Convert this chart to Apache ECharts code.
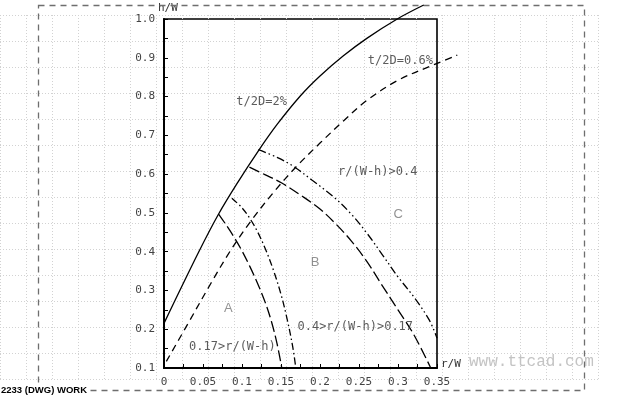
<!DOCTYPE html>
<html><head><meta charset="utf-8">
<script src="https://cdn.jsdelivr.net/npm/echarts@6/dist/echarts.min.js"></script>
<style>html,body{margin:0;padding:0;background:#fff}#c{width:623px;height:396px}</style>
</head><body><div id="c"></div>
<script>
// ---- data (r/W, h/W) ----
const curveT2 = [[0,0.215],[0.044,0.397],[0.07,0.497],[0.095,0.58],[0.121,0.66],[0.145,0.728],[0.175,0.802],[0.2,0.853],[0.23,0.905],[0.26,0.95],[0.299,1.0],[0.333,1.036]];
const curveT06 = [[0.003,0.117],[0.03,0.212],[0.06,0.318],[0.085,0.402],[0.11,0.475],[0.14,0.552],[0.17,0.62],[0.2,0.68],[0.23,0.737],[0.26,0.79],[0.3,0.842],[0.346,0.882],[0.376,0.907]];
const boundA1 = [[0.07,0.497],[0.08,0.468],[0.09,0.437],[0.1,0.402],[0.11,0.362],[0.12,0.318],[0.13,0.268],[0.138,0.218],[0.145,0.162],[0.151,0.1]];
const boundA2 = [[0.087,0.538],[0.1,0.513],[0.11,0.486],[0.12,0.451],[0.13,0.407],[0.14,0.354],[0.15,0.29],[0.158,0.225],[0.165,0.155],[0.169,0.1]];
const boundB1 = [[0.1095,0.618],[0.13,0.598],[0.151,0.577],[0.175,0.546],[0.2,0.51],[0.22,0.472],[0.24,0.428],[0.26,0.375],[0.28,0.312],[0.3,0.25],[0.32,0.187],[0.342,0.1]];
const boundB2 = [[0.121,0.663],[0.145,0.643],[0.166,0.62],[0.19,0.584],[0.217,0.542],[0.24,0.497],[0.26,0.448],[0.28,0.392],[0.3,0.335],[0.32,0.284],[0.34,0.224],[0.35,0.177]];
const annotNames = ['t/2D=2%','t/2D=0.6%','r/(W-h)>0.4','0.17>r/(W-h)','0.4>r/(W-h)>0.17'];
const annotPos = [[0.1252,0.787],[0.303,0.893],[0.274,0.607],[0.0877,0.1557],[0.2452,0.207]];
const regionNames = ['A','B','C'];
const regionPos = [[0.0826,0.2546],[0.1938,0.371],[0.3004,0.497]];
const xMin = 0, xMax = 0.35, xStep = 0.05;
const yMin = 0.1, yMax = 1.0, yStep = 0.1;
const xName = 'r/W', yName = 'h/W';
const stampText = '2233 (DWG) WORK', watermark = 'www.ttcad.com';

const mono = 'DejaVu Sans Mono';
const chart = echarts.init(document.getElementById('c'), null, {renderer:'canvas'});
const lineSeries = (data, type, axis) => ({
  type:'line', xAxisIndex:axis, yAxisIndex:axis, data, showSymbol:false, smooth:0.35, clip: axis !== 2,
  lineStyle:{color:'#000', width:1.3, type:type}, silent:true, z:5
});
const hiddenAxis = {axisLine:{show:false}, axisTick:{show:false}, axisLabel:{show:false}, splitLine:{show:false}};
chart.setOption({
  animation:false,
  backgroundColor:'#fff',
  grid:[
    {left:0, top:15, width:598, height:364, show:false},
    {left:164, top:19, width:273, height:349, show:true, borderColor:'#000', borderWidth:1.6},
    // same scale as the main plot, wider so the two t/2D curves can run past the frame
    {left:164, top:19, width:312, height:349, show:false}
  ],
  xAxis:[
    {gridIndex:0, type:'value', min:0, max:23, interval:1, axisLine:{show:false}, axisTick:{show:false}, axisLabel:{show:false},
     splitLine:{show:true, lineStyle:{color:'#d2d2d2', type:[1,2], width:1}}},
    {gridIndex:1, type:'value', min:xMin, max:xMax, interval:xStep,
     name:xName, nameLocation:'end', nameGap:4, nameTextStyle:{fontFamily:mono, fontSize:11, color:'#333', verticalAlign:'bottom', padding:[0,0,-2,0]},
     axisLine:{show:true, lineStyle:{color:'#000', width:2}},
     axisTick:{show:true, inside:true, length:4, lineStyle:{color:'#000'}},
     minorTick:{show:true, splitNumber:2, length:4, lineStyle:{color:'#000'}},
     axisLabel:{fontFamily:mono, fontSize:11, color:'#444', margin:9, formatter:v=>String(+v.toFixed(2))},
     splitLine:{show:false}},
    Object.assign({gridIndex:2, type:'value', min:xMin, max:0.4}, hiddenAxis)
  ],
  yAxis:[
    {gridIndex:0, type:'value', min:0, max:14, interval:1, inverse:true, axisLine:{show:false}, axisTick:{show:false}, axisLabel:{show:false},
     splitLine:{show:true, lineStyle:{color:'#d2d2d2', type:[1,2], width:1}}},
    {gridIndex:1, type:'value', min:yMin, max:yMax, interval:yStep,
     name:yName, nameLocation:'end', nameGap:2, nameTextStyle:{fontFamily:mono, fontSize:11, color:'#333', align:'left', verticalAlign:'bottom', padding:[0,0,-5,-6]},
     axisLine:{show:true, lineStyle:{color:'#000', width:2}},
     axisTick:{show:true, inside:true, length:4, lineStyle:{color:'#000'}},
     minorTick:{show:true, splitNumber:2, length:4, lineStyle:{color:'#000'}},
     axisLabel:{fontFamily:mono, fontSize:11, color:'#444', margin:9, formatter:v=>v.toFixed(1)},
     splitLine:{show:false}},
    Object.assign({gridIndex:2, type:'value', min:yMin, max:yMax}, hiddenAxis)
  ],
  series:[
    lineSeries(curveT2, 'solid', 2),
    lineSeries(curveT06, [7,5], 2),
    lineSeries(boundA1, [11,4], 1),
    lineSeries(boundA2, [7,3,1.5,3], 1),
    lineSeries(boundB1, [11,4], 1),
    lineSeries(boundB2, [8,3,1.5,3,1.5,3], 1),
    {type:'scatter', xAxisIndex:1, yAxisIndex:1, symbolSize:0, silent:true, z:6,
     data: annotNames.map((n,i)=>({name:n, value:annotPos[i]})),
     label:{show:true, position:'inside', formatter:p=>p.name, fontFamily:mono, fontSize:12, color:'#333'}},
    {type:'scatter', xAxisIndex:1, yAxisIndex:1, symbolSize:0, silent:true, z:6,
     data: regionNames.map((n,i)=>({name:n, value:regionPos[i]})),
     label:{show:true, position:'inside', formatter:p=>p.name, fontFamily:'Liberation Sans', fontSize:13, color:'#777'}}
  ],
  graphic:[
    {type:'rect', shape:{x:38.5, y:5.5, width:546, height:385}, z:1,
     style:{fill:null, stroke:'#6e6e6e', lineWidth:1.3, lineDash:[6,5]}, silent:true},
    {type:'text', left:1, top:384, z:10,
     style:{text:stampText, font:'bold 9.5px "Liberation Sans"', fill:'#000', backgroundColor:'#fff', padding:[1,2,1,0]}},
    {type:'text', left:469, top:354, z:10,
     style:{text:watermark, font:'16px "Liberation Mono"', fill:'#c4c4c4'}}
  ]
});
</script></body></html>
